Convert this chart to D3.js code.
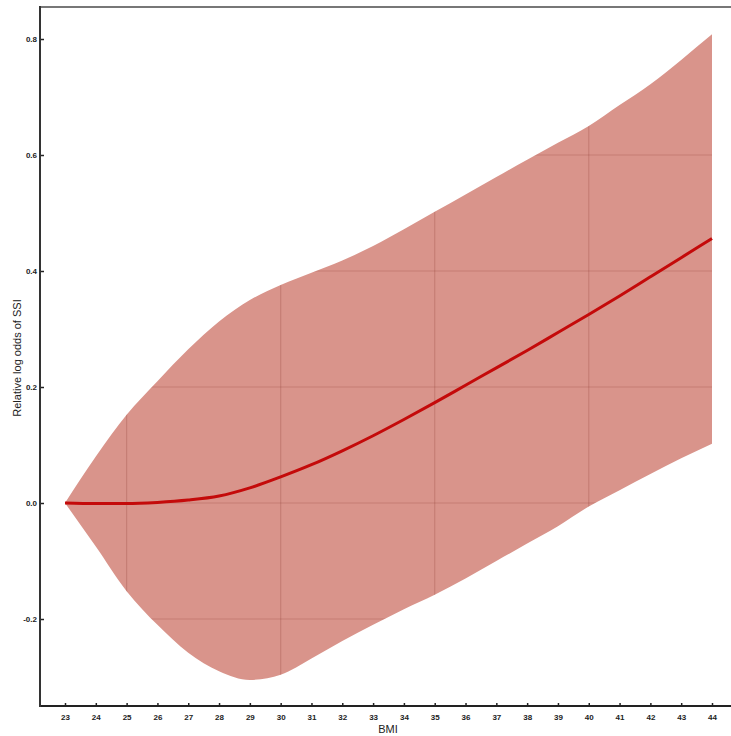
<!DOCTYPE html>
<html>
<head>
<meta charset="utf-8">
<script src="https://cdn.jsdelivr.net/npm/d3@7"></script>
<style>
  body { margin: 0; background: #fff; }
  text { font-family: "Liberation Sans", Arial, sans-serif; }
</style>
</head>
<body>
<script>
// values
const bmi   = [23, 24, 25, 26, 27, 28, 29, 30, 31, 32, 33, 34, 35, 36, 37, 38, 39, 40, 41, 42, 43, 44];
const est   = [0, -0.001, -0.001, 0.001, 0.005, 0.012, 0.026, 0.045, 0.066, 0.09, 0.116, 0.144, 0.173, 0.203, 0.233, 0.263, 0.294, 0.325, 0.357, 0.39, 0.423, 0.456];
const upper = [0, 0.08, 0.152, 0.21, 0.265, 0.313, 0.35, 0.376, 0.397, 0.418, 0.443, 0.472, 0.502, 0.532, 0.562, 0.592, 0.621, 0.65, 0.686, 0.722, 0.764, 0.808];
const lower = [0, -0.075, -0.152, -0.21, -0.258, -0.29, -0.305, -0.296, -0.268, -0.238, -0.21, -0.183, -0.158, -0.13, -0.1, -0.07, -0.04, -0.006, 0.022, 0.05, 0.077, 0.102];
const yTicks = [-0.2, 0, 0.2, 0.4, 0.6, 0.8];
const xGrid = [25, 30, 35, 40];
const yGrid = [-0.2, 0, 0.2, 0.4, 0.6];

const width = 731, height = 736;

const svg = d3.select("body").append("svg")
  .attr("width", width)
  .attr("height", height);

const x = d3.scaleLinear().domain([23, 44]).range([65, 712]);
const y = d3.scaleLinear().domain([-0.2, 0.8]).range([619, 39]);

const rows = bmi.map((b, i) => ({b: b, e: est[i], lo: lower[i], hi: upper[i]}));

const area = d3.area()
  .x(d => x(d.b))
  .y0(d => y(d.lo))
  .y1(d => y(d.hi))
  .curve(d3.curveMonotoneX);

// band
svg.append("clipPath").attr("id", "band")
  .append("path").attr("d", area(rows));

svg.append("path")
  .attr("d", area(rows))
  .attr("fill", "#d9948b");

// grid only shows inside the band
const grid = svg.append("g").attr("clip-path", "url(#band)")
  .attr("stroke", "rgba(130,50,40,0.22)")
  .attr("stroke-width", 1.2);

grid.selectAll(".gx").data(xGrid).join("line")
  .attr("x1", d => x(d)).attr("x2", d => x(d))
  .attr("y1", 0).attr("y2", height);

grid.selectAll(".gy").data(yGrid).join("line")
  .attr("x1", 0).attr("x2", width)
  .attr("y1", d => y(d)).attr("y2", d => y(d));

// estimate line
svg.append("path")
  .datum(rows)
  .attr("fill", "none")
  .attr("stroke", "#c40a0a")
  .attr("stroke-width", 3)
  .attr("d", d3.line().x(d => x(d.b)).y(d => y(d.e)).curve(d3.curveMonotoneX));

// frame
svg.append("line").attr("x1", 40).attr("x2", width).attr("y1", 7).attr("y2", 7)
  .attr("stroke", "#777").attr("stroke-width", 2);

const xAxis = d3.axisBottom(x).tickValues(bmi).tickSize(0).tickPadding(8);
const gx = svg.append("g").attr("transform", "translate(0,706)").call(xAxis);
gx.select(".domain").remove();
gx.selectAll("text").attr("font-size", 8).attr("fill", "#222").attr("font-weight", "bold");
gx.selectAll(".tick").append("line").attr("y1", 0).attr("y2", -3)
  .attr("stroke", "#222").attr("stroke-width", 1.5);

const yAxis = d3.axisLeft(y).tickValues(yTicks)
  .tickFormat(d => d.toFixed(1))   // plain hyphen like the original
  .tickSize(0).tickPadding(3);
const gy = svg.append("g").attr("transform", "translate(40,0)").call(yAxis);
gy.select(".domain").remove();
gy.selectAll("text").attr("font-size", 8).attr("fill", "#222").attr("font-weight", "bold");
gy.selectAll(".tick").append("line").attr("x1", 0).attr("x2", 4)
  .attr("stroke", "#222").attr("stroke-width", 1.5);

svg.append("line").attr("x1", 40).attr("x2", width).attr("y1", 706).attr("y2", 706)
  .attr("stroke", "#222").attr("stroke-width", 2);
svg.append("line").attr("x1", 40).attr("x2", 40).attr("y1", 6).attr("y2", 707)
  .attr("stroke", "#333").attr("stroke-width", 2);

// titles
svg.append("text")
  .attr("x", 388).attr("y", 733)
  .attr("text-anchor", "middle")
  .attr("font-size", 11)
  .attr("fill", "#222")
  .text("BMI");

svg.append("text")
  .attr("transform", "translate(21,358) rotate(-90)")
  .attr("text-anchor", "middle")
  .attr("font-size", 11)
  .attr("fill", "#222")
  .text("Relative log odds of SSI");
</script>
</body>
</html>
